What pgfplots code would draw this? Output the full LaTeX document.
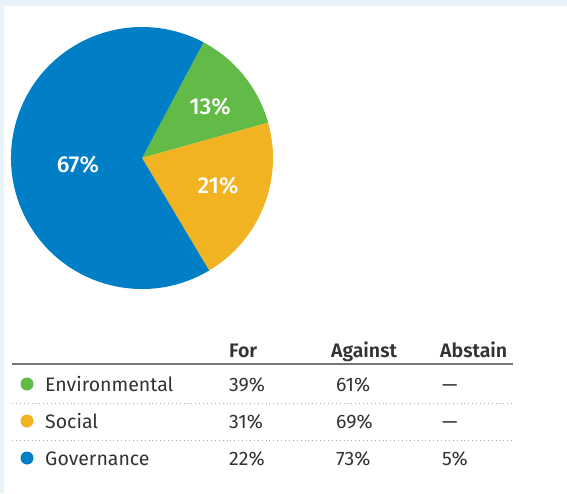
\documentclass[border=0pt]{standalone}
\usepackage{pgfplots}
\pgfplotsset{compat=1.18}
\usepackage{pgfplotstable}
\usepackage{fontspec}
\setmainfont{Fira Sans}
\newfontfamily\labelfont{Fira Sans Medium}
\newfontfamily\headfont{Fira Sans SemiBold}
\definecolor{bgblue}{HTML}{E8F2F9}
\definecolor{govblue}{HTML}{007EC6}
\definecolor{envgreen}{HTML}{62BB47}
\definecolor{socyellow}{HTML}{F1B321}
\definecolor{txt}{HTML}{333333}
\definecolor{rule}{HTML}{777777}
\definecolor{dots}{HTML}{AAAAAA}

\pgfplotstableread{
label value
Environmental 13
Social 21
Governance 67
}\pietable

\pgfplotstablegetelem{0}{value}\of\pietable \let\vEnv\pgfplotsretval
\pgfplotstablegetelem{1}{value}\of\pietable \let\vSoc\pgfplotsretval
\pgfplotstablegetelem{2}{value}\of\pietable \let\vGov\pgfplotsretval
\pgfmathsetmacro{\total}{\vEnv+\vSoc+\vGov}
\pgfmathsetmacro{\aA}{62}
\pgfmathsetmacro{\aB}{\aA-360*\vEnv/\total}
\pgfmathsetmacro{\aC}{\aB-360*\vSoc/\total}
\pgfmathsetmacro{\aD}{\aA-360}

\begin{document}
\begin{tikzpicture}[x=1pt,y=1pt]
\useasboundingbox (0,0) rectangle (567,493);
\fill[bgblue] (0,0) rectangle (567,493);
\fill[white] (4,0) rectangle (567,487);
\begin{axis}[
  x=1pt, y=1pt,
  anchor=origin, at={(142pt,335pt)},
  hide axis,
  xmin=-131, xmax=131, ymin=-131, ymax=131,
  clip=false,
]
\addplot[draw=none] coordinates {(0,0)};
\fill[envgreen] (axis cs:0,0) -- (axis cs:{131*cos(\aA)},{131*sin(\aA)}) arc[start angle=\aA, end angle=\aB, radius=131pt] -- cycle;
\fill[socyellow] (axis cs:0,0) -- (axis cs:{131*cos(\aB)},{131*sin(\aB)}) arc[start angle=\aB, end angle=\aC, radius=131pt] -- cycle;
\fill[govblue] (axis cs:0,0) -- (axis cs:{131*cos(\aC)},{131*sin(\aC)}) arc[start angle=\aC, end angle=\aD, radius=131pt] -- cycle;
\node[white, font=\labelfont\fontsize{23}{23}\selectfont] at (axis cs:68,51) {13\%};
\node[white, font=\labelfont\fontsize{23}{23}\selectfont] at (axis cs:76,-28) {21\%};
\node[white, font=\labelfont\fontsize{23}{23}\selectfont] at (axis cs:-64,-7) {67\%};
\end{axis}
% table
\begin{scope}[every node/.style={anchor=base west, inner sep=0pt, text=txt, font=\fontsize{19.5}{19.5}\selectfont}]
\node[font=\headfont\fontsize{19.5}{19.5}\selectfont] at (229,136) {For};
\node[font=\headfont\fontsize{19.5}{19.5}\selectfont] at (331,136) {Against};
\node[font=\headfont\fontsize{19.5}{19.5}\selectfont] at (440,136) {Abstain};
\draw[rule, line width=1.8pt] (12,129) -- (513,129);
\node at (45,102) {Environmental};
\node at (229,102) {39\%};
\node at (336,102) {61\%};
\node at (442,102) {---};
\draw[dots, line width=0.9pt, dash pattern=on 0.9pt off 3pt] (12,90) -- (513,90);
\node at (45,65) {Social};
\node at (229,65) {31\%};
\node at (336,65) {69\%};
\node at (442,65) {---};
\draw[dots, line width=0.9pt, dash pattern=on 0.9pt off 3pt] (12,53) -- (513,53);
\node at (45,28) {Governance};
\node at (229,28) {22\%};
\node at (336,28) {73\%};
\node at (442,28) {5\%};
\end{scope}
\fill[envgreen] (27,109) circle (6.5);
\fill[socyellow] (27,72) circle (6.5);
\fill[govblue] (27,35) circle (6.5);
\end{tikzpicture}
\end{document}
